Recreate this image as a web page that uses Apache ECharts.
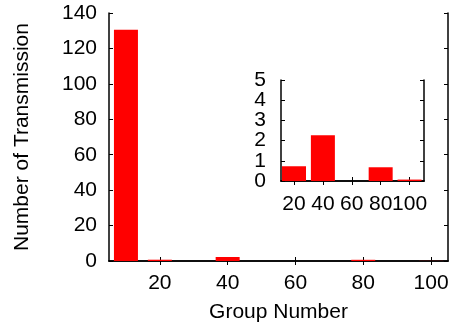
<!DOCTYPE html>
<html><head><meta charset="utf-8">
<script src="https://cdn.jsdelivr.net/npm/echarts@6/dist/echarts.min.js"></script>
<style>html,body{margin:0;padding:0;background:#fff}#c{width:455px;height:331px}</style>
</head><body><div id="c"></div>
<script>
const groups = [10, 20, 40, 80, 100];
const counts = [130.5, 0.73, 2.27, 0.68, 0.07];
const insetGroups = [20, 40, 80, 100];
const insetCounts = [0.73, 2.27, 0.68, 0.07];
const mainXTicks = [20, 40, 60, 80, 100];
const insetXTicks = [20, 40, 60, 80, 100];
const insetXLabelsA = [20, 60, 100];
const insetXLabelsB = [40, 80];
const insetYTicks = [0, 1, 2, 3, 4, 5];
const insetYLabelsA = [0, 2, 4];
const insetYLabelsB = [1, 3, 5];

const font = 'Liberation Sans, Arial, Helvetica, sans-serif';
const fs = 21;
const lab = {color:'#000', fontFamily:font, fontSize:fs, showMinLabel:true, showMaxLabel:true, hideOverlap:false};
const line = {show:true, lineStyle:{color:'#000', width:1.5}};
function tick(len){return {show:true, inside:true, length:len, lineStyle:{color:'#000', width:1}};}
const insetBox = {left:281, right:31, top:80, bottom:150};

const chart = echarts.init(document.getElementById('c'), null, {renderer:'canvas'});
chart.setOption({
  animation:false,
  backgroundColor:'#fff',
  grid:[
    {left:109, right:7, top:13, bottom:70},
    Object.assign({z:10}, insetBox),
    Object.assign({z:10}, insetBox)
  ],
  xAxis:[
    {gridIndex:0, type:'value', min:5, max:105, position:'bottom',
     axisLine:line, splitLine:{show:false},
     axisTick:Object.assign(tick(4),{customValues:mainXTicks}),
     axisLabel:Object.assign({}, lab, {margin:12, customValues:mainXTicks}),
     name:'Group Number', nameLocation:'middle', nameGap:41,
     nameTextStyle:{color:'#000', fontFamily:font, fontSize:fs}},
    {gridIndex:0, type:'value', min:5, max:105, position:'top',
     axisLine:line, splitLine:{show:false},
     axisTick:Object.assign(tick(4),{customValues:mainXTicks}),
     axisLabel:{show:false}},
    {gridIndex:1, type:'value', min:11, max:110, position:'bottom',
     axisLine:line, splitLine:{show:false},
     axisTick:Object.assign(tick(4),{customValues:insetXTicks}),
     axisLabel:Object.assign({}, lab, {margin:13, customValues:insetXLabelsA})},
    {gridIndex:1, type:'value', min:11, max:110, position:'top',
     axisLine:line, splitLine:{show:false},
     axisTick:Object.assign(tick(4),{customValues:insetXTicks}),
     axisLabel:{show:false}},
    {gridIndex:2, type:'value', min:11, max:110, position:'bottom',
     axisLine:{show:false}, splitLine:{show:false}, axisTick:{show:false},
     axisLabel:Object.assign({}, lab, {margin:13, customValues:insetXLabelsB})}
  ],
  yAxis:[
    {gridIndex:0, type:'value', min:0, max:140, interval:20, position:'left',
     axisLine:line, splitLine:{show:false}, axisTick:tick(4),
     axisLabel:Object.assign({}, lab, {margin:12}),
     name:'Number of Transmission', nameLocation:'middle', nameGap:76, nameRotate:90,
     nameTextStyle:{color:'#000', fontFamily:font, fontSize:fs}},
    {gridIndex:0, type:'value', min:0, max:140, interval:20, position:'right',
     axisLine:line, splitLine:{show:false}, axisTick:tick(4), axisLabel:{show:false}},
    {gridIndex:1, type:'value', min:0, max:5, position:'left',
     axisLine:line, splitLine:{show:false},
     axisTick:Object.assign(tick(4),{customValues:insetYTicks}),
     axisLabel:Object.assign({}, lab, {margin:15, customValues:insetYLabelsA})},
    {gridIndex:1, type:'value', min:0, max:5, position:'right',
     axisLine:line, splitLine:{show:false},
     axisTick:Object.assign(tick(4),{customValues:insetYTicks}),
     axisLabel:{show:false}},
    {gridIndex:2, type:'value', min:0, max:5, position:'left',
     axisLine:{show:false}, splitLine:{show:false}, axisTick:{show:false},
     axisLabel:Object.assign({}, lab, {margin:15, customValues:insetYLabelsB})}
  ],
  series:[
    {type:'bar', xAxisIndex:0, yAxisIndex:0, barWidth:24, z:2,
     itemStyle:{color:'#ff0000'}, data:groups.map((g,i)=>[g,counts[i]])},
    {type:'bar', xAxisIndex:2, yAxisIndex:2, barWidth:24, z:12,
     itemStyle:{color:'#ff0000'}, data:insetGroups.map((g,i)=>[g,insetCounts[i]])}
  ]
});
</script>
</body></html>
